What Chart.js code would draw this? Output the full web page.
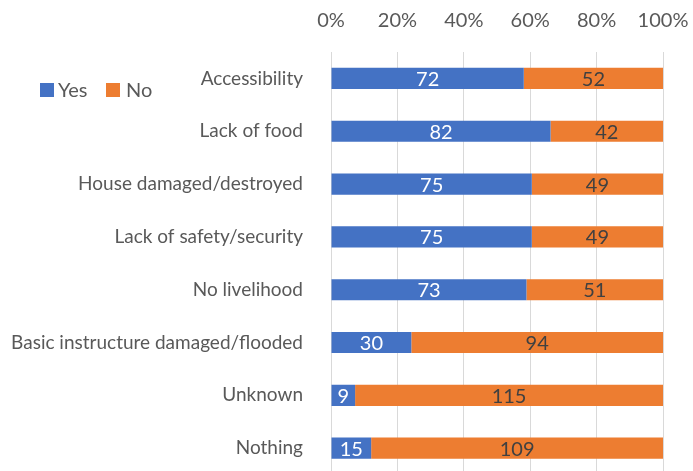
<!DOCTYPE html>
<html>
<head>
<meta charset="utf-8">
<script src="https://cdn.jsdelivr.net/npm/chart.js@4.4.1/dist/chart.umd.min.js"></script>
<style>
  html, body { margin: 0; padding: 0; background: #fff; overflow: hidden; }
  #wrap { width: 693px; height: 471px; overflow: hidden; }
</style>
</head>
<body>
<div id="wrap"><canvas id="barChart" width="693" height="506"></canvas></div>
<script>
// chart data
const categories = [
  'Accessibility', 'Lack of food', 'House damaged/destroyed', 'Lack of safety/security',
  'No livelihood', 'Basic instructure damaged/flooded', 'Unknown', 'Nothing'
];
const yesCounts = [72, 82, 75, 75, 73, 30, 9, 15];
const noCounts = [52, 42, 49, 49, 51, 94, 115, 109];
const tickValues = [0, 20, 40, 60, 80, 100];

const FONT = 'Lato';
const BLUE = '#4472C4';
const ORANGE = '#ED7D31';

// 100% stacked: convert counts to shares of each row
function share(counts, i) {
  return counts[i] / (yesCounts[i] + noCounts[i]) * 100;
}

// draws the raw counts in the middle of each segment
const countLabels = {
  id: 'countLabels',
  afterDatasetsDraw(chart) {
    const ctx = chart.ctx;
    ctx.save();
    ctx.font = '20px ' + FONT;
    ctx.textAlign = 'center';
    ctx.textBaseline = 'middle';
    chart.data.datasets.forEach((ds, di) => {
      const meta = chart.getDatasetMeta(di);
      meta.data.forEach((bar, i) => {
        ctx.fillStyle = ds.labelColor;
        ctx.fillText(String(ds.counts[i]), (bar.x + bar.base) / 2, bar.y + 1);
      });
    });
    ctx.restore();
  }
};

// legend sitting at the left, like the original
const sideLegend = {
  id: 'sideLegend',
  afterDraw(chart) {
    const ctx = chart.ctx;
    const spots = [{ box: 40, text: 58 }, { box: 106, text: 126 }];
    ctx.save();
    ctx.font = '20px ' + FONT;
    ctx.textBaseline = 'middle';
    chart.data.datasets.forEach((ds, di) => {
      const s = spots[di];
      ctx.fillStyle = ds.backgroundColor;
      ctx.fillRect(s.box, 83, 14, 14);
      ctx.fillStyle = '#595959';
      ctx.fillText(ds.label, s.text, 91);
    });
    ctx.restore();
  }
};

document.addEventListener('DOMContentLoaded', function () {
  const ctx = document.getElementById('barChart').getContext('2d');
  new Chart(ctx, {
    type: 'bar',
    data: {
      labels: categories,
      datasets: [
        {
          label: 'Yes',
          data: categories.map((c, i) => share(yesCounts, i)),
          counts: yesCounts,
          labelColor: '#ffffff',
          backgroundColor: BLUE
        },
        {
          label: 'No',
          data: categories.map((c, i) => share(noCounts, i)),
          counts: noCounts,
          labelColor: '#404040',
          backgroundColor: ORANGE
        }
      ]
    },
    options: {
      indexAxis: 'y',
      responsive: false,
      animation: false,
      devicePixelRatio: 1,
      barPercentage: 0.4,
      categoryPercentage: 1,
      layout: { padding: { top: 0, right: 30, bottom: 0, left: 0 } },
      plugins: {
        legend: { display: false },
        tooltip: { enabled: false }
      },
      scales: {
        x: {
          position: 'top',
          stacked: true,
          min: 0,
          max: 100,
          afterBuildTicks: scale => { scale.ticks = tickValues.map(v => ({ value: v })); },
          afterFit: scale => {
            scale.height = 52;
            scale.paddingRight = 30;
          },
          border: { display: false },
          grid: { color: '#d9d9d9', lineWidth: 1, drawTicks: false },
          ticks: {
            padding: 19,
            color: '#595959',
            font: { family: FONT, size: 20 },
            callback: v => v + '%'
          }
        },
        y: {
          stacked: true,
          afterFit: scale => { scale.width = 331; },
          border: { display: false },
          grid: { display: false },
          ticks: {
            padding: 20,
            color: '#595959',
            font: { family: FONT, size: 19 }
          }
        }
      }
    },
    plugins: [countLabels, sideLegend]
  });
});
</script>
</body>
</html>
